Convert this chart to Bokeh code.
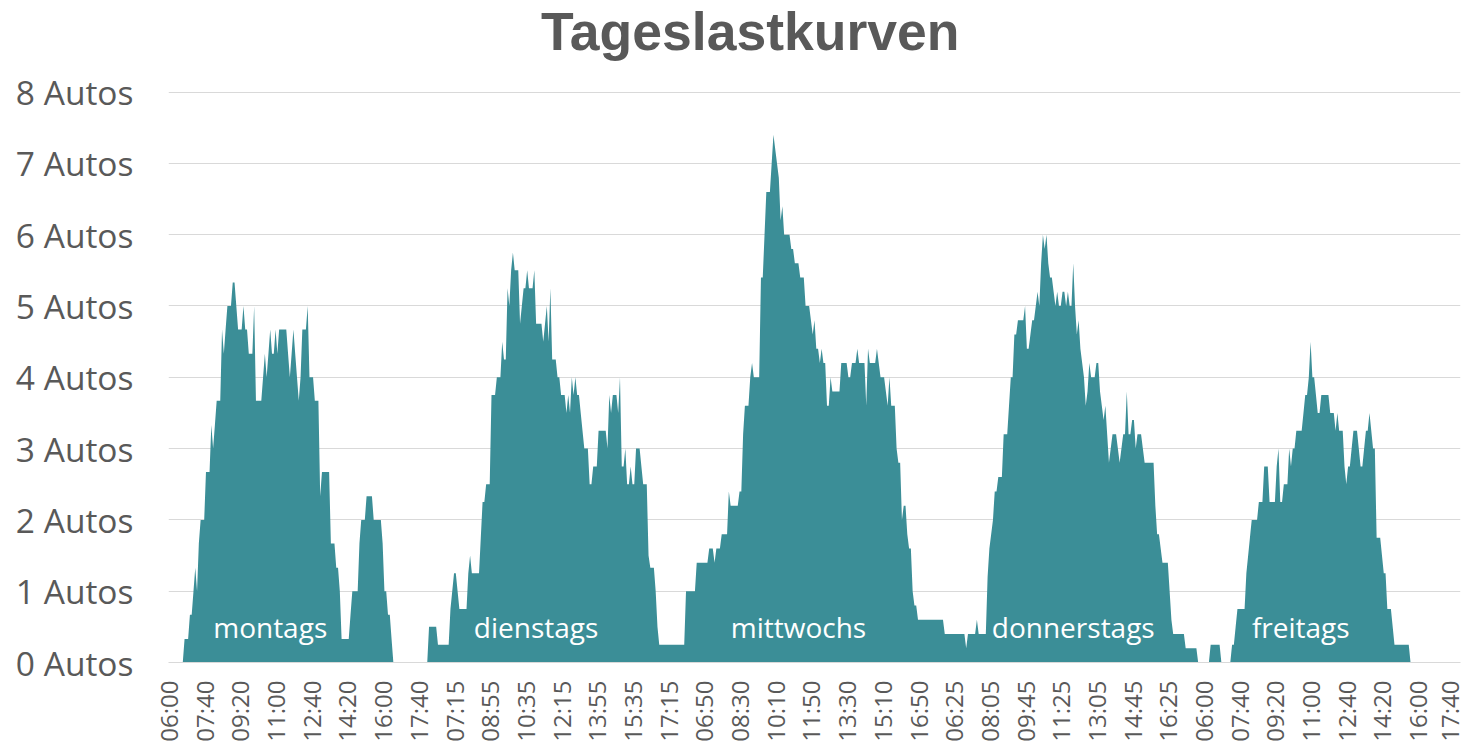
import math
from bokeh.plotting import figure
from bokeh.models import FixedTicker, Range1d
from bokeh.embed import file_html
from bokeh.resources import INLINE
from bokeh.core.properties import value

# ---------------- data (5-minute averages, 06:00-18:00 each day) ----------------
montags = [
    0, 0, 0, 0, 0, 0, 0, 0, 0, 0.33, 0.33, 0.33, 0.67, 0.67, 1.0, 1.33, 1.0, 1.67, 2.0, 2.0,
    2.0, 2.67, 2.67, 2.67, 3.33, 3.0, 3.33, 3.67, 3.67, 3.67, 4.67, 4.33, 4.67, 5.0, 5.0, 5.0, 5.33, 5.33, 5.0, 4.67,
    4.67, 4.67, 5.0, 4.67, 4.67, 4.33, 4.33, 4.33, 5.0, 3.67, 3.67, 3.67, 3.67, 4.0, 4.33, 4.0, 4.33, 4.67, 4.33, 4.33,
    4.67, 4.33, 4.67, 4.67, 4.67, 4.67, 4.67, 4.33, 4.0, 4.33, 4.67, 4.33, 4.0, 3.67, 4.0, 4.67, 4.67, 4.67, 5.0, 4.0,
    4.0, 4.0, 3.67, 3.67, 3.67, 2.33, 2.67, 2.67, 2.67, 2.67, 2.67, 1.67, 1.67, 1.67, 1.33, 1.33, 1.0, 0.33, 0.33, 0.33,
    0.33, 0.33, 0.67, 1.0, 1.0, 1.0, 1.0, 1.67, 2.0, 2.0, 2.0, 2.33, 2.33, 2.33, 2.33, 2.0, 2.0, 2.0, 2.0, 2.0,
    1.67, 1.0, 1.0, 0.67, 0.67, 0.33, 0, 0, 0, 0, 0, 0, 0, 0, 0, 0, 0, 0, 0, 0,
    0, 0, 0, 0, 0,
]
dienstags = [
    0, 0.5, 0.5, 0.5, 0.5, 0.5, 0.25, 0.25, 0.25, 0.25, 0.25, 0.25, 0.25, 0.75, 1.0, 1.25, 1.25, 1.0, 0.75, 0.75,
    0.75, 0.75, 0.75, 1.25, 1.5, 1.25, 1.25, 1.25, 1.25, 1.25, 1.75, 2.25, 2.25, 2.5, 2.5, 2.5, 3.75, 3.75, 3.75, 4.0,
    4.0, 4.0, 4.5, 4.25, 4.25, 5.25, 5.0, 5.5, 5.75, 5.5, 5.5, 5.5, 4.75, 5.0, 5.25, 5.25, 5.5, 5.25, 5.25, 5.25,
    5.5, 4.75, 4.75, 4.75, 4.75, 4.5, 4.75, 5.0, 4.5, 5.25, 4.25, 4.25, 4.25, 4.0, 4.0, 3.75, 3.75, 3.75, 3.5, 3.75,
    3.5, 4.0, 3.75, 4.0, 3.75, 3.75, 3.5, 3.25, 3.0, 3.0, 3.0, 2.5, 2.5, 2.75, 2.75, 2.75, 3.25, 3.25, 3.25, 3.25,
    3.25, 3.0, 3.75, 3.5, 3.75, 3.75, 3.75, 3.5, 4.0, 2.75, 2.75, 3.0, 2.5, 2.5, 2.75, 2.5, 2.5, 3.0, 3.0, 3.0,
    2.75, 2.5, 2.5, 2.5, 1.5, 1.33, 1.33, 1.33, 1.0, 0.5, 0.25, 0.25, 0.25, 0.25, 0.25, 0.25, 0.25, 0.25, 0.25, 0.25,
    0.25, 0.25, 0.25, 0.25, 0.25,
]
mittwochs = [
    1.0, 1.0, 1.0, 1.0, 1.0, 1.0, 1.4, 1.4, 1.4, 1.4, 1.4, 1.4, 1.4, 1.6, 1.6, 1.6, 1.4, 1.6, 1.6, 1.6,
    1.8, 1.8, 1.8, 1.8, 2.4, 2.2, 2.2, 2.2, 2.2, 2.2, 2.4, 2.4, 3.2, 3.6, 3.6, 3.6, 4.0, 4.2, 4.0, 4.0,
    4.0, 4.0, 5.4, 5.4, 6.0, 6.6, 6.6, 6.6, 7.0, 7.4, 7.2, 7.0, 6.8, 6.2, 6.4, 6.0, 6.0, 6.0, 6.0, 5.8,
    5.8, 5.6, 5.6, 5.6, 5.4, 5.4, 5.4, 5.0, 5.0, 5.0, 4.8, 4.6, 4.8, 4.4, 4.4, 4.2, 4.4, 4.2, 4.2, 3.6,
    3.6, 4.0, 3.8, 3.8, 3.8, 3.8, 3.8, 4.2, 4.2, 4.2, 4.2, 4.0, 4.0, 4.2, 4.2, 4.2, 4.4, 4.2, 4.2, 4.2,
    4.2, 3.6, 4.4, 4.2, 4.2, 4.2, 4.2, 4.4, 4.2, 4.0, 4.0, 4.0, 3.8, 3.6, 4.0, 3.6, 3.6, 3.6, 3.0, 2.8,
    2.8, 2.0, 2.2, 2.2, 1.8, 1.6, 1.6, 1.0, 0.8, 0.8, 0.6, 0.6, 0.6, 0.6, 0.6, 0.6, 0.6, 0.6, 0.6, 0.6,
    0.6, 0.6, 0.6, 0.6, 0.6,
]
donnerstags = [
    0.4, 0.4, 0.4, 0.4, 0.4, 0.4, 0.4, 0.4, 0.4, 0.4, 0.4, 0.4, 0.2, 0.4, 0.4, 0.4, 0.4, 0.4, 0.6, 0.4,
    0.4, 0.4, 0.4, 0.4, 1.2, 1.6, 1.8, 2.0, 2.4, 2.4, 2.6, 2.6, 2.6, 3.2, 3.2, 3.2, 3.6, 4.0, 4.0, 4.6,
    4.6, 4.8, 4.8, 4.8, 4.8, 5.0, 4.4, 4.4, 4.6, 4.8, 4.8, 5.0, 5.2, 5.0, 5.6, 6.0, 5.8, 6.0, 5.6, 5.4,
    5.4, 5.2, 5.0, 5.2, 5.0, 5.0, 5.2, 5.2, 5.0, 5.2, 5.0, 5.0, 5.6, 5.0, 4.6, 4.8, 4.4, 4.2, 4.0, 3.6,
    3.8, 4.2, 4.0, 4.0, 4.0, 4.2, 4.2, 3.8, 3.6, 3.4, 3.6, 3.2, 2.8, 3.0, 3.2, 3.2, 3.2, 3.0, 2.8, 3.0,
    3.2, 3.2, 3.8, 3.2, 3.2, 3.4, 3.4, 3.0, 3.2, 3.2, 3.2, 3.0, 2.8, 2.8, 2.8, 2.8, 2.8, 2.8, 2.2, 1.8,
    1.8, 1.6, 1.4, 1.4, 1.4, 1.4, 1.0, 0.6, 0.4, 0.4, 0.4, 0.4, 0.4, 0.4, 0.4, 0.2, 0.2, 0.2, 0.2, 0.2,
    0.2, 0.2, 0, 0, 0,
]
freitags = [
    0, 0, 0, 0, 0.25, 0.25, 0.25, 0.25, 0.25, 0.25, 0, 0, 0, 0, 0, 0, 0.25, 0.25, 0.5, 0.75,
    0.75, 0.75, 0.75, 0.75, 1.25, 1.5, 1.75, 2.0, 2.0, 2.0, 2.0, 2.25, 2.25, 2.25, 2.75, 2.75, 2.75, 2.25, 2.25, 2.25,
    2.25, 2.75, 3.0, 2.25, 2.25, 2.5, 2.5, 2.5, 3.0, 2.75, 3.0, 3.0, 3.25, 3.25, 3.25, 3.25, 3.5, 3.75, 3.75, 4.0,
    4.5, 4.0, 4.0, 3.75, 3.5, 3.5, 3.75, 3.75, 3.75, 3.75, 3.75, 3.5, 3.5, 3.5, 3.25, 3.5, 3.25, 3.25, 3.25, 2.75,
    2.5, 2.75, 2.75, 3.0, 3.25, 3.25, 3.25, 3.0, 2.75, 2.75, 3.0, 3.25, 3.25, 3.5, 3.25, 3.0, 3.0, 1.75, 1.75, 1.75,
    1.5, 1.25, 1.25, 0.75, 0.75, 0.75, 0.5, 0.25, 0.25, 0.25, 0.25, 0.25, 0.25, 0.25, 0.25, 0.25, 0, 0, 0, 0,
    0, 0, 0, 0, 0, 0, 0, 0, 0, 0, 0, 0, 0, 0, 0, 0, 0, 0, 0, 0,
    0, 0, 0, 0, 0,
]

day_names = ["montags", "dienstags", "mittwochs", "donnerstags", "freitags"]
title_text = "Tageslastkurven"

x_tick_labels = [
    "06:00", "07:40", "09:20", "11:00", "12:40", "14:20", "16:00", "17:40",
    "07:15", "08:55", "10:35", "12:15", "13:55", "15:35", "17:15",
    "06:50", "08:30", "10:10", "11:50", "13:30", "15:10", "16:50",
    "06:25", "08:05", "09:45", "11:25", "13:05", "14:45", "16:25",
    "06:00", "07:40", "09:20", "11:00", "12:40", "14:20", "16:00", "17:40",
]
y_tick_labels = ["0 Autos", "1 Autos", "2 Autos", "3 Autos", "4 Autos",
                 "5 Autos", "6 Autos", "7 Autos", "8 Autos"]

# ---------------- layout ----------------
series = montags + dienstags + mittwochs + donnerstags + freitags
xs = list(range(len(series)))
tick_step = 20
x_ticks = [k * tick_step for k in range(len(x_tick_labels))]
y_ticks = list(range(len(y_tick_labels)))
label_x = [57, 206, 353, 507, 634.5]   # positions of the day captions (index units)
label_y = [0.5] * len(day_names)

# frame spans the full height above the x axis; the part above 8 holds the title
PLOT_H = 744
BOTTOM = 79
PX_PER_UNIT = 573 / 8.0
Y_TOP = (PLOT_H - BOTTOM) / PX_PER_UNIT
title_x = [326]
title_y = [Y_TOP - 31 / PX_PER_UNIT]

TXT = "#595959"
FILL = "#3B8E97"

p = figure(width=1465, height=PLOT_H, output_backend="svg", toolbar_location=None, title=None,
           x_range=Range1d(0, len(series) - 1), y_range=Range1d(0, Y_TOP),
           min_border_left=168, min_border_right=5, min_border_top=0, min_border_bottom=BOTTOM,
           background_fill_color="white", border_fill_color="white")
p.outline_line_color = None

p.varea(x=xs, y1=[0] * len(series), y2=series, fill_color=FILL)

p.text(x=label_x, y=label_y, text=day_names, text_color="white",
       text_font=value("Open Sans"), text_font_size="28px",
       text_align="center", text_baseline="middle")

p.text(x=title_x, y=title_y, text=[title_text], text_color=TXT,
       text_font=value("Liberation Sans"), text_font_style="bold", text_font_size="53.5px",
       text_align="center", text_baseline="middle")

# axes
p.xaxis.ticker = FixedTicker(ticks=x_ticks)
p.xaxis.major_label_overrides = {t: l for t, l in zip(x_ticks, x_tick_labels)}
p.xaxis.major_label_orientation = math.pi / 2
p.xaxis.major_label_text_font = "Open Sans"
p.xaxis.major_label_text_font_size = "24px"
p.xaxis.major_label_text_color = TXT
p.xaxis.major_label_standoff = 12
p.xaxis.axis_line_color = "#D9D9D9"
p.xaxis.axis_line_width = 1
p.xaxis.major_tick_line_color = None
p.xaxis.minor_tick_line_color = None

p.yaxis.ticker = FixedTicker(ticks=y_ticks)
p.yaxis.major_label_overrides = {t: l for t, l in zip(y_ticks, y_tick_labels)}
p.yaxis.major_label_text_font = "Open Sans"
p.yaxis.major_label_text_font_size = "33.5px"
p.yaxis.major_label_text_color = TXT
p.yaxis.major_label_standoff = 29
p.yaxis.axis_line_color = None
p.yaxis.major_tick_line_color = None
p.yaxis.minor_tick_line_color = None

p.xgrid.grid_line_color = None
p.ygrid.grid_line_color = "#D9D9D9"
p.ygrid.grid_line_width = 1

open("out.html", "w").write(file_html(p, INLINE))
